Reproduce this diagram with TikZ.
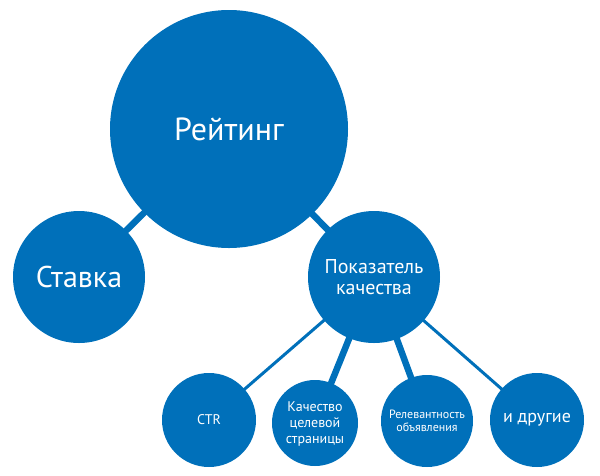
\documentclass[tikz,border=0pt]{standalone}
\usepackage{fontspec}
\setmainfont{PT Sans}
\definecolor{dblue}{RGB}{0,112,186}
\begin{document}
\begin{tikzpicture}[x=1pt,y=-1pt,
  bub/.style={circle,fill=dblue,draw=none,inner sep=0pt,text=white,align=center},
  thickc/.style={draw=dblue,line width=6.5pt,shorten <=-2pt,shorten >=-2pt},
  thinc/.style={draw=dblue,line width=3pt,shorten <=-2pt,shorten >=-2pt}]
\useasboundingbox (0,0) rectangle (600,475);
\node[bub,minimum size=238pt,font=\fontsize{32}{36}\selectfont] (r) at (229,129) {Рейтинг};
\node[bub,minimum size=132pt,font=\fontsize{30}{34}\selectfont] (s) at (79,277) {Ставка};
\node[bub,minimum size=132pt,font=\fontsize{20}{21}\selectfont] (p) at (374,277) {Показатель\\качества};
\node[bub,minimum size=94pt,font=\fontsize{14}{16}\selectfont] (c) at (209,420) {CTR};
\node[bub,minimum size=86pt,font=\fontsize{14}{16}\selectfont,text depth=0pt] (k) at (315,423) {Качество\\целевой\\страницы};
\node[bub,minimum size=92pt,font=\fontsize{12}{13}\selectfont] (v) at (427,421) {Релевантность\\объявления};
\node[bub,minimum size=94pt,font=\fontsize{18}{20}\selectfont] (d) at (537,420) {и другие};
\draw[thickc] (r) -- (s);
\draw[thickc] (r) -- (p);
\draw[thinc] (p) -- (c);
\draw[thickc] (p) -- (k);
\draw[thickc] (p) -- (v);
\draw[thinc] (p) -- (d);
\end{tikzpicture}
\end{document}
